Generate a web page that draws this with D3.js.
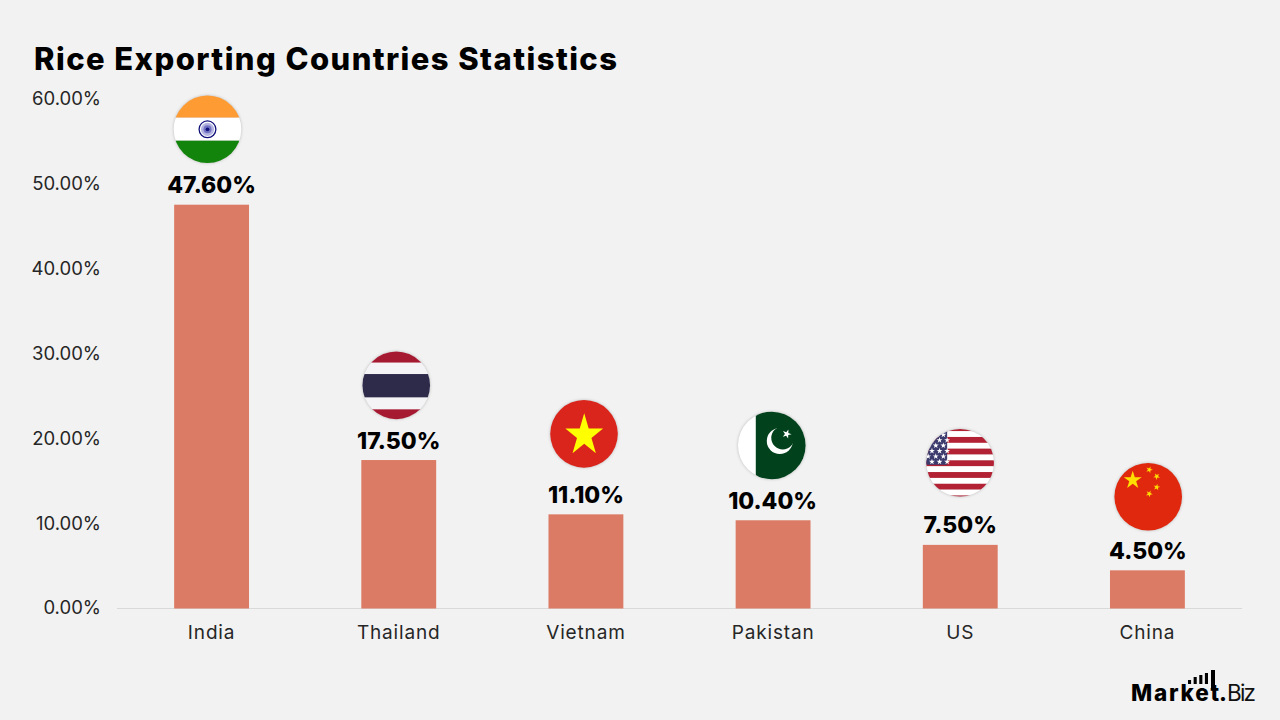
<!DOCTYPE html>
<html>
<head>
<meta charset="utf-8">
<script src="https://cdnjs.cloudflare.com/ajax/libs/d3/7.8.5/d3.min.js"></script>
<style>
  html, body { margin: 0; padding: 0; background: #f2f2f2; }
  svg { display: block; }
  text { font-family: Inter, "Open Sans", sans-serif; }
</style>
</head>
<body>
<svg id="chart" width="1280" height="720"></svg>
<script>
const chartTitle = "Rice Exporting Countries Statistics";
const countries = ["India", "Thailand", "Vietnam", "Pakistan", "US", "China"];
const shares = [47.6, 17.5, 11.1, 10.4, 7.5, 4.5];
const yTicks = [0, 10, 20, 30, 40, 50, 60];

const svg = d3.select("#chart");
const defs = svg.append("defs");

const x = d3.scaleBand().domain(countries).range([118, 1241]).paddingInner(0.6).paddingOuter(0.3);
const y = d3.scaleLinear().domain([0, 60]).range([608.5, 99.5]);

const pct = d => d.toFixed(2) + "%";

// Soft halo behind each round flag
const shadow = defs.append("filter").attr("id", "flagShadow")
  .attr("x", "-20%").attr("y", "-20%").attr("width", "140%").attr("height", "140%");
shadow.append("feGaussianBlur").attr("stdDeviation", 1.5);

svg.append("rect").attr("width", 1280).attr("height", 720).attr("fill", "#f2f2f2");

svg.append("text").attr("x", 34).attr("y", 70)
  .attr("font-size", 31).attr("font-weight", 800).attr("fill", "#000")
  .attr("textLength", 583).attr("lengthAdjust", "spacing")
  .text(chartTitle);

// Value axis: labels only
svg.append("g").selectAll("text").data(yTicks).join("text")
  .attr("x", 101).attr("y", d => y(d) - 0.5).attr("dy", "0.35em")
  .attr("text-anchor", "end").attr("font-size", 18.5).attr("fill", "#262626")
  .text(pct);

// Category axis from the band scale, with the rule running past the outer bands
const xAxis = svg.append("g").attr("transform", `translate(0,${y(0)})`)
  .call(d3.axisBottom(x).tickSize(0).tickPadding(17));
xAxis.select(".domain").remove();
xAxis.append("line").attr("x1", 117).attr("x2", 1242).attr("stroke", "#d9d9d9").attr("stroke-width", 1);
xAxis.selectAll("text").attr("font-size", 19).attr("fill", "#262626")
  .style("font-family", "Inter").style("letter-spacing", "0.85px");

// Bars
svg.append("g").selectAll("rect").data(countries).join("rect")
  .attr("x", (d) => x(d)).attr("width", x.bandwidth())
  .attr("y", (d, i) => y(shares[i]))
  .attr("height", (d, i) => y(0) - y(shares[i]))
  .attr("fill", "#dc7b65");

// Value labels above the bars
const labelShift = [0, 0, 0, -0.5, 0, 0.5];
svg.append("g").selectAll("text").data(countries).join("text")
  .attr("x", (d, i) => x(d) + x.bandwidth() / 2 + labelShift[i])
  .attr("y", (d, i) => y(shares[i]) - 11.5)
  .attr("text-anchor", "middle").attr("font-size", 23).attr("font-weight", 800).attr("fill", "#000")
  .text((d, i) => pct(shares[i]));

// Flag painters: each draws into a group centred on the flag
const R = 33.8;
function band(g, top, h, fill, w = 2 * R + 4, left = -R - 2) {
  g.append("rect").attr("x", left).attr("y", top).attr("width", w).attr("height", h).attr("fill", fill);
}
function star(g, cx, cy, size, fill, rotate = 0, stretch = 1) {
  g.append("path").attr("d", d3.symbol(d3.symbolStar, size)())
    .attr("transform", `translate(${cx},${cy}) rotate(${rotate}) scale(${stretch},1)`).attr("fill", fill);
}
const flagPainters = {
  India(g) {
    band(g, -R - 2, R + 2 - 11.6, "#ff9b33");
    band(g, -11.6, 23, "#ffffff");
    band(g, 11.4, R + 2 - 11.4, "#12840c");
    g.append("circle").attr("r", 8.4).attr("fill", "#fff").attr("stroke", "#10107a").attr("stroke-width", 1.3);
    g.append("circle").attr("r", 6.6).attr("fill", "#b4b4e0");
    g.append("circle").attr("r", 4).attr("fill", "#7373c4");
    g.append("circle").attr("r", 1.9).attr("fill", "#10107a");
  },
  Thailand(g) {
    band(g, -R - 2, 2 * R + 4, "#f4f4f6");
    band(g, -R - 2, 13, "#a51931");
    band(g, -11.3, 23.3, "#2d2a4a");
    band(g, 24, 12, "#a51931");
  },
  Vietnam(g) {
    band(g, -R - 2, 2 * R + 4, "#da251d");
    star(g, 0.2, 1.6, 548, "#ffff00", 0, 0.9);
  },
  Pakistan(g) {
    band(g, -R - 2, 2 * R + 4, "#ffffff");
    band(g, -R - 2, 2 * R + 4, "#01411c", R + 18, -16);
    // Crescent: a white disc partly covered by a green one
    g.append("circle").attr("cx", 8).attr("cy", -4.5).attr("r", 13).attr("fill", "#fff");
    g.append("circle").attr("cx", 11).attr("cy", -7.5).attr("r", 11.5).attr("fill", "#01411c");
    star(g, 15, -11.5, 26, "#fff", 20);
  },
  US(g) {
    const stripe = 5.85;
    d3.range(13).forEach(i => band(g, 0.5 + (i - 6.5) * stripe, stripe + 0.2, i % 2 ? "#ffffff" : "#b22234"));
    band(g, -R - 2, R + 4, "#3c3b6e", R - 13 + 2);
    d3.range(6).forEach(r => d3.range(3).forEach(c =>
      star(g, -32 + c * 7.6 + (r % 2) * 3.8, -28 + r * 5.4, 11, "#fff")));
  },
  China(g) {
    band(g, -R - 2, 2 * R + 4, "#e0280f");
    star(g, -15.5, -16.5, 101, "#ffdf00");
    star(g, 1.1, -27, 14, "#ffdf00", 20);
    star(g, 8.5, -20.3, 14, "#ffdf00", 40);
    star(g, 8.5, -9.6, 14, "#ffdf00", 10);
    star(g, 1, -3, 14, "#ffdf00", 25);
  }
};

// Flags sit above their bars; the lift differs a little from country to country
const flagLift = [75.4, 74.7, 80.5, 74.8, 82.1, 73.6];
const flagShift = [-4.1, -2.5, -1.9, -1.3, -0.1, 0.8];

countries.forEach((name, i) => {
  const cx = x(name) + x.bandwidth() / 2 + flagShift[i];
  const cy = y(shares[i]) - flagLift[i];
  const clipId = "clip-" + name;
  defs.append("clipPath").attr("id", clipId).append("circle").attr("r", R);
  const holder = svg.append("g").attr("transform", `translate(${cx},${cy})`);
  holder.append("circle").attr("r", R).attr("fill", "#000").attr("fill-opacity", 0.24).attr("filter", "url(#flagShadow)");
  const g = holder.append("g").attr("clip-path", `url(#${clipId})`);
  flagPainters[name](g);
});

// Brand mark, lower right corner: rising bars over the wordmark, the tallest as the stem of the t
const brand = svg.append("g");
const brandBars = [4, 7, 9, 11];
const brandX = d3.scaleBand().domain(d3.range(brandBars.length)).range([1188, 1208]).paddingInner(0.45);
brand.selectAll("rect").data(brandBars).join("rect")
  .attr("x", (d, i) => brandX(i)).attr("width", brandX.bandwidth())
  .attr("y", d => 684 - d).attr("height", d => d)
  .attr("fill", "#000");
brand.append("text").attr("x", 1131).attr("y", 701)
  .attr("font-size", 22.5).attr("font-weight", 800).attr("fill", "#000")
  .attr("textLength", 88).attr("lengthAdjust", "spacing").text("Market");
brand.append("text").attr("x", 1219).attr("y", 701)
  .attr("font-size", 22.5).attr("font-weight", 800).attr("fill", "#000").text(".");
brand.append("rect").attr("x", 1211).attr("y", 670).attr("width", 4).attr("height", 20).attr("fill", "#000");
brand.append("text").attr("x", 1227).attr("y", 701)
  .attr("font-size", 22.5).attr("font-weight", 400).attr("fill", "#111")
  .attr("textLength", 29).attr("lengthAdjust", "spacing").text("Biz");
</script>
</body>
</html>
